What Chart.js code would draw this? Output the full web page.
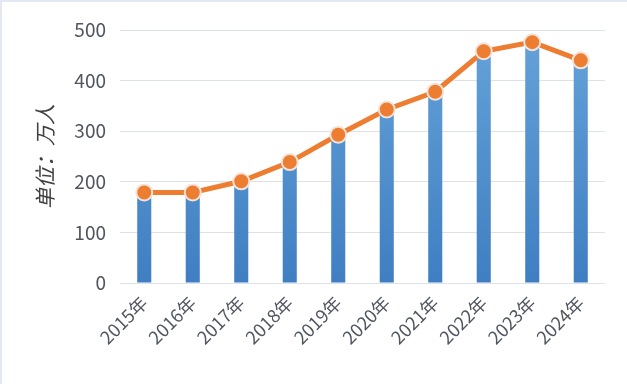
<!DOCTYPE html>
<html lang="zh">
<head>
    <meta charset="UTF-8">
    <title>单位：万人</title>
    <script src="https://cdn.jsdelivr.net/npm/chart.js"></script>
    <style>
        html, body {
            margin: 0;
            padding: 0;
            background: #fff;
        }
        .chart-box {
            position: relative;
            width: 627px;
            height: 384px;
            box-sizing: border-box;
            border-top: 2px solid #e3e7f1;
            border-left: 2px solid #e3e7f1;
        }
    </style>
</head>
<body>
    <div class="chart-box">
        <canvas id="chart"></canvas>
    </div>

    <script>
        const years = ['2015年', '2016年', '2017年', '2018年', '2019年', '2020年', '2021年', '2022年', '2023年', '2024年'];
        const people = [179, 179, 201, 239, 293, 343, 378, 458, 476, 440];
        const yTicks = [0, 100, 200, 300, 400, 500];

        const textColor = '#505560';
        const sans = "'Noto Sans CJK SC', 'Open Sans', sans-serif";

        // blue bars, lighter at the top
        function barGradient(context) {
            const area = context.chart.chartArea;
            if (!area) return '#5b9bd5';
            const g = context.chart.ctx.createLinearGradient(0, area.top, 0, area.bottom);
            g.addColorStop(0, '#66a3da');
            g.addColorStop(1, '#3f7ec1');
            return g;
        }

        new Chart(document.getElementById('chart'), {
            data: {
                labels: years,
                datasets: [
                    {
                        type: 'line',
                        data: people,
                        order: 0,
                        borderColor: '#ed7d31',
                        borderWidth: 5,
                        tension: 0,
                        pointRadius: 8,
                        pointBackgroundColor: '#ed7d31',
                        pointBorderColor: '#f3e3da',
                        pointBorderWidth: 2
                    },
                    {
                        type: 'bar',
                        data: people,
                        order: 1,
                        backgroundColor: barGradient,
                        categoryPercentage: 1,
                        barPercentage: 0.29
                    }
                ]
            },
            options: {
                responsive: true,
                maintainAspectRatio: false,
                animation: false,
                layout: {
                    padding: { top: 28, right: 22, bottom: 0, left: 0 }
                },
                plugins: {
                    legend: { display: false },
                    tooltip: { enabled: false }
                },
                scales: {
                    x: {
                        grid: { display: false },
                        border: { display: false },
                        ticks: {
                            color: textColor,
                            font: { family: sans, size: 18 },
                            minRotation: 45,
                            maxRotation: 45,
                            padding: 1
                        },
                        afterFit: scale => { scale.height = 101; }
                    },
                    y: {
                        min: 0,
                        max: 500,
                        afterBuildTicks: scale => {
                            scale.ticks = yTicks.map(v => ({ value: v }));
                        },
                        grid: {
                            color: '#dde1ea',
                            drawTicks: false
                        },
                        border: { display: false },
                        ticks: {
                            color: textColor,
                            font: { family: sans, size: 19 },
                            padding: 14
                        },
                        title: {
                            display: true,
                            text: '单位：万人',
                            color: '#404040',
                            font: { family: sans, size: 21, style: 'italic' },
                            padding: { top: 30, bottom: 0 }
                        },
                        afterFit: scale => { scale.width = 118; }
                    }
                }
            }
        });
    </script>
</body>
</html>
